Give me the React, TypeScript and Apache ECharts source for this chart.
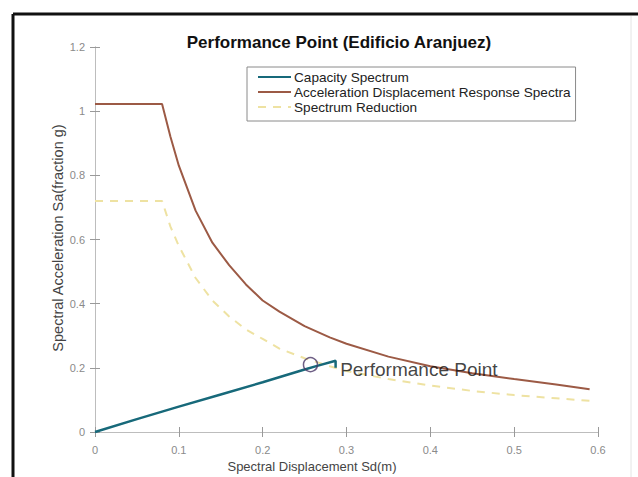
import React, { useEffect, useRef } from "react";
import * as echarts from "echarts";

const xTicks = [0, 0.1, 0.2, 0.3, 0.4, 0.5, 0.6];
const yTicks = [0, 0.2, 0.4, 0.6, 0.8, 1, 1.2];

const capacitySd = [0, 0.05, 0.1, 0.15, 0.2, 0.25, 0.265, 0.287, 0.287];
const capacitySa = [0, 0.04, 0.079, 0.117, 0.155, 0.195, 0.206, 0.222, 0.2];

const adrsSd = [0, 0.08, 0.09, 0.1, 0.12, 0.14, 0.16, 0.18, 0.2, 0.22, 0.25, 0.28, 0.3, 0.35, 0.4, 0.45, 0.5, 0.55, 0.59];
const adrsSa = [1.022, 1.022, 0.92, 0.83, 0.69, 0.59, 0.52, 0.46, 0.41, 0.375, 0.33, 0.295, 0.275, 0.235, 0.205, 0.183, 0.165, 0.148, 0.133];

const reducedSd = [0, 0.08, 0.09, 0.1, 0.12, 0.14, 0.16, 0.18, 0.2, 0.22, 0.25, 0.28, 0.3, 0.35, 0.4, 0.45, 0.5, 0.55, 0.59];
const reducedSa = [0.72, 0.72, 0.64, 0.58, 0.48, 0.41, 0.36, 0.32, 0.29, 0.26, 0.23, 0.205, 0.19, 0.165, 0.145, 0.128, 0.115, 0.105, 0.097];

const performancePoint = [0.257, 0.21];

const seriesNames = ["Capacity Spectrum", "Acceleration Displacement Response Spectra", "Spectrum Reduction"];

const zip = (a: number[], b: number[]) => a.map((v, i) => [v, b[i]]);

export default function App() {
  const ref = useRef<HTMLDivElement>(null);
  useEffect(() => {
    if (!ref.current) return;
    const chart = echarts.init(ref.current, null, { renderer: "svg" });
    const font = "'Liberation Sans', Arial, sans-serif";
    const boxColor = "#bdbdbd";
    const tickLabel = { color: "#8a8a8a", fontSize: 11, fontFamily: font };
    const xLabels = xTicks.map(String);
    const yLabels = yTicks.map(String);
    chart.setOption({
      animation: false,
      backgroundColor: "#ffffff",
      title: {
        text: "Performance Point (Edificio Aranjuez)",
        left: 334,
        top: 29,
        textAlign: "center",
        textStyle: { fontSize: 17, fontWeight: "bold", color: "#111", fontFamily: font },
      },
      grid: { left: 95, right: 40, top: 47, bottom: 45, show: false },
      legend: {
        data: seriesNames,
        orient: "vertical",
        left: 247,
        top: 67,
        itemWidth: 33,
        itemHeight: 10,
        itemGap: 1,
        padding: [3, 5, 7, 10],
        itemStyle: { opacity: 0 },
        borderColor: "#8a8a8a",
        borderWidth: 1,
        backgroundColor: "#fff",
        textStyle: { fontSize: 13.6, lineHeight: 14, color: "#222", fontFamily: font, padding: [0, 0, 0, -2] },
      },
      xAxis: [
        {
          type: "value",
          min: 0,
          max: 0.6,
          interval: 0.1,
          axisLine: { show: true, lineStyle: { color: boxColor } },
          axisTick: { show: true, inside: true, length: 5, lineStyle: { color: "#999" } },
          axisLabel: { ...tickLabel, margin: 12, formatter: (v: number) => xLabels[Math.round(v * 10)] ?? "" },
          splitLine: { show: false },
        },
        {
          type: "value",
          position: "top",
          min: 0,
          max: 0.6,
          interval: 0.1,
          axisLine: { show: true, lineStyle: { color: boxColor } },
          axisTick: { show: true, inside: true, length: 5, lineStyle: { color: "#999" } },
          axisLabel: { show: false },
          splitLine: { show: false },
        },
      ],
      yAxis: [
        {
          type: "value",
          min: 0,
          max: 1.2,
          interval: 0.2,
          axisLine: { show: true, lineStyle: { color: boxColor } },
          axisTick: { show: true, inside: true, length: 5, lineStyle: { color: "#999" } },
          axisLabel: { ...tickLabel, margin: 10, formatter: (v: number) => yLabels[Math.round(v * 5)] ?? "" },
          splitLine: { show: false },
        },
        {
          type: "value",
          position: "right",
          min: 0,
          max: 1.2,
          interval: 0.2,
          axisLine: { show: true, lineStyle: { color: boxColor } },
          axisTick: { show: true, inside: true, length: 5, lineStyle: { color: "#999" } },
          axisLabel: { show: false },
          splitLine: { show: false },
        },
      ],
      graphic: [
        { type: "line", shape: { x1: 13, y1: 14, x2: 638, y2: 14 }, style: { stroke: "#111", lineWidth: 3 } },
        { type: "line", shape: { x1: 13, y1: 14, x2: 13, y2: 477 }, style: { stroke: "#111", lineWidth: 3 } },
        { type: "line", shape: { x1: 631, y1: 16, x2: 631, y2: 477 }, style: { stroke: "#e4e4e4", lineWidth: 1 } },
        {
          type: "text",
          x: 58,
          y: 238,
          rotation: Math.PI / 2,
          style: {
            text: "Spectral Acceleration Sa(fraction g)",
            fontSize: 14.5,
            fontFamily: font,
            fill: "#444",
            textAlign: "center",
            textVerticalAlign: "middle",
          },
        },
        {
          type: "text",
          x: 312,
          y: 466,
          style: {
            text: "Spectral Displacement Sd(m)",
            fontSize: 13,
            fontFamily: font,
            fill: "#444",
            textAlign: "center",
            textVerticalAlign: "middle",
          },
        },
      ],
      series: [
        {
          name: seriesNames[0],
          type: "line",
          data: zip(capacitySd, capacitySa),
          showSymbol: false,
          symbol: "none",
          lineStyle: { color: "#17697a", width: 2.5 },
          itemStyle: { color: "#17697a" },
          z: 4,
        },
        {
          name: seriesNames[1],
          type: "line",
          data: zip(adrsSd, adrsSa),
          showSymbol: false,
          symbol: "none",
          lineStyle: { color: "#9c5a45", width: 2 },
          itemStyle: { color: "#9c5a45" },
          z: 3,
        },
        {
          name: seriesNames[2],
          type: "line",
          data: zip(reducedSd, reducedSa),
          showSymbol: false,
          symbol: "none",
          lineStyle: { color: "#eee2a2", width: 2, type: [8, 7] },
          itemStyle: { color: "#eee2a2" },
          z: 2,
        },
        {
          name: "Performance Point",
          type: "scatter",
          data: [performancePoint],
          symbol: "circle",
          symbolSize: 14,
          itemStyle: { color: "rgba(0,0,0,0)", borderColor: "#4a3766", borderWidth: 1.5 },
          label: {
            show: true,
            formatter: "Performance Point",
            position: "right",
            distance: 22,
            offset: [0, 5],
            fontSize: 19,
            color: "#111",
            fontFamily: font,
          },
          z: 5,
        },
      ],
    });
    return () => chart.dispose();
  }, []);
  return <div ref={ref} style={{ position: "fixed", left: 0, top: 0, width: 638, height: 477 }} />;
}
